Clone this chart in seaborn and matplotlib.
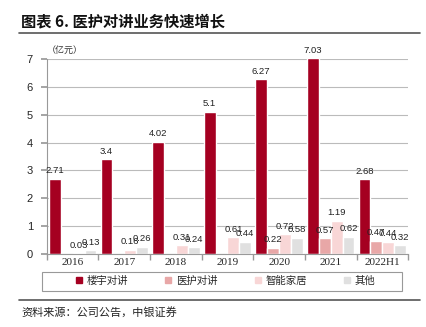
import numpy as np
import pandas as pd
import matplotlib
matplotlib.use("Agg")
import matplotlib.pyplot as plt
import seaborn as sns
from matplotlib.lines import Line2D
from matplotlib.patches import Rectangle
from matplotlib.ticker import FixedLocator

years = ["2016", "2017", "2018", "2019", "2020", "2021", "2022H1"]
series = ["楼宇对讲", "医护对讲", "智能家居", "其他"]
building = [2.71, 3.4, 4.02, 5.1, 6.27, 7.03, 2.68]
medical = [np.nan, np.nan, np.nan, np.nan, 0.22, 0.57, 0.47]
smarthome = [0.03, 0.16, 0.31, 0.61, 0.72, 1.19, 0.44]
other = [0.13, 0.26, 0.24, 0.44, 0.58, 0.62, 0.32]
colors = ["#A50021", "#E8A7A7", "#F8D6D6", "#E0E0E0"]

rows = []
for s, vals in zip(series, [building, medical, smarthome, other]):
    for y, v in zip(years, vals):
        rows.append({"year": y, "series": s, "value": v})
df = pd.DataFrame(rows)

sns.set_theme(style="white")
plt.rcParams['font.family'] = ['Noto Sans CJK SC', 'DejaVu Sans']

fig = plt.figure(figsize=(4.26, 3.27), dpi=100)
ax = fig.add_axes([0.110, 0.223, 0.848, 0.597])
sns.barplot(data=df, x="year", y="value", hue="series", order=years,
            hue_order=series, palette=colors, width=0.92, saturation=1,
            legend=False, ax=ax, errorbar=None)

ax.set_ylim(0, 7)
ax.set_xlim(-0.5, 6.5)
for b in ax.patches:
    b.set_clip_on(False)

for cont in ax.containers:
    labels = ["" if np.isnan(v) else f"{v:g}" for v in cont.datavalues]
    texts = ax.bar_label(cont, labels=labels, padding=2.5, fontsize=6.8,
                         family="Liberation Sans", color="#222222")
    for t in texts:
        t.set_annotation_clip(False)
        t.set_clip_on(False)

ax.set_yticks(range(0, 8))
ax.set_yticklabels([str(i) for i in range(8)], family="Liberation Sans", fontsize=8)
ax.set_xticks(range(len(years)))
ax.set_xticklabels(years, family="Liberation Serif", fontsize=8)
ax.tick_params(axis="x", which="major", length=0, pad=3)
ax.xaxis.set_minor_locator(FixedLocator(np.arange(-0.5, 7, 1)))
ax.tick_params(axis="x", which="minor", length=4, color="#999999", bottom=True)
ax.tick_params(axis="y", length=4, color="#999999", left=True, pad=6)
ax.yaxis.grid(True, color="#BBBBBB", linewidth=0.8)
ax.set_axisbelow(True)
for sp in ["top", "right"]:
    ax.spines[sp].set_visible(False)
for sp in ["left", "bottom"]:
    ax.spines[sp].set_color("#999999")
    ax.spines[sp].set_linewidth(0.8)
ax.set_xlabel("")
ax.set_ylabel("")

ax.text(0.0, 1.02, "（亿元）", transform=ax.transAxes, fontsize=6.5, color="#333333",
        ha="left", va="bottom")

handles = [Line2D([], [], marker="s", linestyle="", markersize=5,
                  markerfacecolor=c, markeredgecolor=c) for c in colors]
leg = fig.legend(handles, series, loc="center", bbox_to_anchor=(0.527, 0.141),
                 ncol=4, fontsize=7.5, frameon=False,
                 handletextpad=0.2, columnspacing=3.4, handlelength=1.0)
fig.add_artist(Rectangle((42 / 426, 1 - 291 / 327), 360 / 426, 19 / 327,
                         transform=fig.transFigure, fill=False,
                         edgecolor="#999999", linewidth=0.8))

fig.text(0.05, 0.935, "图表 6. 医护对讲业务快速增长", fontsize=11, fontweight="bold",
         ha="left", va="center", color="#111111")
fig.add_artist(Line2D([0.045, 0.985], [0.899, 0.899], color="#555555", linewidth=1.2))
fig.add_artist(Line2D([0.045, 0.985], [0.083, 0.083], color="#555555", linewidth=1.2))
fig.text(0.05, 0.045, "资料来源：公司公告，中银证券", fontsize=8, style="italic",
         ha="left", va="center", color="#222222")

fig.savefig("out.png", dpi=100)
